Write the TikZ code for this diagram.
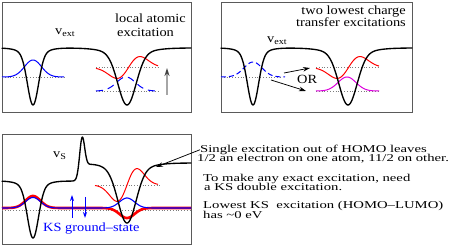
\documentclass[tikz,border=0pt]{standalone}
\usepackage{fontspec}
\setmainfont{Liberation Serif}[FakeStretch=1.15]
\newfontfamily\notefont{Liberation Serif}[FakeStretch=1.4]
\usetikzlibrary{arrows.meta}
\definecolor{framecol}{RGB}{90,90,90}
\definecolor{levcol}{RGB}{125,125,125}
\definecolor{orbblue}{RGB}{0,0,255}
\definecolor{orbred}{RGB}{255,0,0}
\definecolor{orbmag}{RGB}{220,0,220}
\tikzset{
  boxln/.style={line width=0.9pt, draw=framecol},
  potln/.style={line width=1.35pt, line join=round, line cap=round},
  orbln/.style={line width=1pt, line join=round},
  levln/.style={dash pattern=on 0.8pt off 2pt, line width=0.8pt, levcol},
  lbl/.style={font=\fontsize{12.5}{14}\selectfont, inner sep=0pt},
  note/.style={font=\notefont\fontsize{10.5}{10}\selectfont, inner sep=0pt, anchor=base west},
  ptr/.style={-{Stealth[length=7pt,width=4.5pt]}, line width=0.75pt},
  spin/.style={-{Stealth[length=6pt,width=4pt]}, line width=1pt, orbblue},
}

\begin{document}
\begin{tikzpicture}[x=1pt, y=-1pt,
  declare function={
    gau(\xv,\cv,\sv)=exp(max(-15,0-(min(abs(\xv-\cv),90)/\sv)^2/2));
    asy(\xv,\cv,\sv)=((\xv-\cv)/\sv)*gau(\xv,\cv,\sv);
    sig(\xv,\cv,\sv)=1/(1+exp(0-max(-8,min(8,(\xv-\cv)/\sv))));
    wellA(\xv,\cv)=0.9*gau(\xv,\cv,5.5)+0.1*gau(\xv,\cv,12);
    wellB(\xv,\cv)=0.9*gau(\xv,\cv,9)+0.1*gau(\xv,\cv,20);
  }]
  \useasboundingbox (0,0) rectangle (463,245);

  % panel 1: local atomic excitation
  \draw[boxln] (2,2) rectangle (191,112);
  \draw[levln] (2,77) -- (64,77);
  \draw[levln] (96,67.5) -- (158,67.5);
  \draw[levln] (96,91) -- (158,91);
  \draw[orbln, orbblue] plot[domain=2:64, samples=80] (\x, {77-17*gau(\x,33,8.5)});
  \draw[orbln, orbblue, dash pattern=on 7pt off 5pt]
    plot[domain=96:158, samples=80] (\x, {91-14*gau(\x,126,9.5)});
  \draw[orbln, orbred] plot[domain=96:158, samples=80] (\x, {67.5-18*asy(\x,128.5,11.5)});
  \draw[potln] plot[domain=2:191, samples=240] (\x, {48+57*wellA(\x,33)+57*wellB(\x,127)});
  \node[lbl, anchor=base west] (vext1) at (55,35) {v\textsubscript{ext}};
  \node[lbl, anchor=base west] (loc1) at (115,22.5) {local atomic};
  \node[lbl, anchor=base west] (loc2) at (117,37) {excitation};
  \coordinate (exbot) at (167,95);
  \coordinate (extop) at (167,68);
  \draw[-{Stealth[length=8pt,width=5pt,black!75]}, line width=1.3pt, gray!70] (exbot) -- (extop);

  % panel 2: charge transfer excitations
  \draw[boxln] (221,2) rectangle (412,112);
  \draw[levln] (221,77) -- (282,77);
  \draw[levln] (316,67.5) -- (379,67.5);
  \draw[levln] (316,91) -- (379,91);
  \draw[orbln, orbblue, dash pattern=on 5pt off 3pt]
    plot[domain=221:285, samples=80] (\x, {77-15*gau(\x,253,9)});
  \draw[orbln, orbred] plot[domain=316:379, samples=80] (\x, {67.5-18*asy(\x,348.5,11.5)});
  \draw[orbln, orbmag] plot[domain=316:379, samples=80] (\x, {91-14*gau(\x,347,9)});
  \draw[potln] plot[domain=221:412, samples=240] (\x, {48+57*wellA(\x,253)+57*wellB(\x,348)});
  \node[lbl, anchor=base west] (vext2) at (267,43) {v\textsubscript{ext}};
  \node[lbl, anchor=base east] (ct1) at (406,15) {two lowest charge};
  \node[lbl, anchor=base east] (ct2) at (406,27) {transfer excitations};
  \node[lbl, anchor=base west] (orlbl) at (297,83.5) {OR};
  \coordinate (upfrom) at (284,73);
  \coordinate (upto) at (310,68);
  \coordinate (dnfrom) at (271,80);
  \coordinate (dnto) at (306,91);
  \draw[ptr] (upfrom) -- (upto);
  \draw[ptr] (dnfrom) -- (dnto);

  % panel 3: KS potential
  \draw[boxln] (2,134) rectangle (191,244);
  \draw[levln] (2,210) -- (191,210);
  \draw[levln] (95,185) -- (160,185);
  \draw[orbln, orbred, line width=2.6pt]
    plot[domain=2:191, samples=200] (\x, {208-12*gau(\x,33,7.5)+10*gau(\x,127,7.5)});
  \draw[orbln, orbblue, line width=1.1pt]
    plot[domain=2:191, samples=200] (\x, {208-10.5*gau(\x,33,7.5)-10*gau(\x,127,7.5)});
  \draw[orbln, orbred] plot[domain=95:158, samples=80] (\x, {185-27*asy(\x,127,10)});
  \draw[potln] plot[domain=2:191, samples=380]
    (\x, {181-18*sig(\x,82,2)-35*gau(\x,82,2.5)+57*wellA(\x,33)+60*wellB(\x,127)});
  \node[lbl, anchor=base west] (vs) at (53,158) {v\textsubscript{S}};
  \node[lbl, anchor=base west, orbblue] (ksgs) at (43,231.5) {KS ground–state};
  \coordinate (upa) at (72,218);
  \coordinate (upb) at (72,195);
  \coordinate (dna) at (85,197);
  \coordinate (dnb) at (85,218);
  \draw[spin] (upa) -- (upb);
  \draw[spin] (dna) -- (dnb);

  % notes
  \node[note] (sx1) at (200,152.3) {Single excitation out of HOMO leaves};
  \node[note] (sx2) at (197,161.7) {1/2 an electron on one atom, 11/2 on other.};
  \node[note] (dx1) at (203,181.7) {To make any exact excitation, need};
  \node[note] (dx2) at (204,190.5) {a KS double excitation.};
  \node[note] (lx1) at (203,209) {Lowest KS\ \ excitation (HOMO–LUMO)};
  \node[note] (lx2) at (203,218.3) {has \textasciitilde0 eV};
  \coordinate (homotip) at (156,167);
  \draw[ptr] (sx1.west) -- (homotip);
\end{tikzpicture}
\end{document}
